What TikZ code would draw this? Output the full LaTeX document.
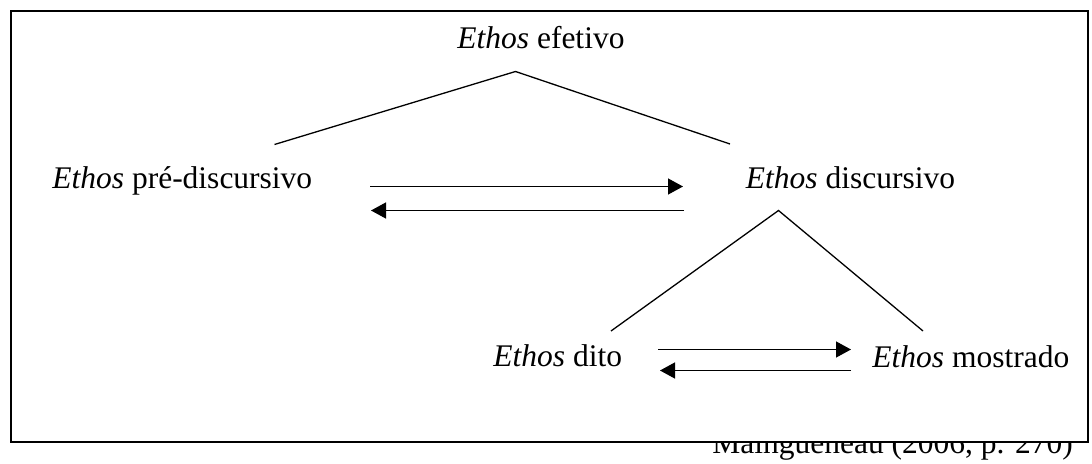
\documentclass[tikz,border=0pt]{standalone}
\usepackage{fontspec}
\setmainfont{Liberation Serif}
\usetikzlibrary{arrows.meta}
\begin{document}
\begin{tikzpicture}[x=0.5pt,y=-0.5pt,
  lbl/.style={anchor=base west,inner sep=0pt,font=\fontsize{15.75}{19}\selectfont},
  branch/.style={line width=0.65pt,line join=miter},
  flow/.style={line width=0.65pt,-{Triangle[length=7.5pt,width=8pt]}},
  frame/.style={draw=black,fill=white,line width=0.9pt}]
\useasboundingbox (0,0) rectangle (1092,464);
% caption (partly hidden under the frame)
\node[lbl] (cap) at (712,453) {Maingueneau (2006, p. 270)};
\path[frame] (11,11) rectangle (1088,442);
% labels
\node[lbl] (efet) at (457,49) {\textit{Ethos} efetivo};
\node[lbl] (pre) at (52,189) {\textit{Ethos} pré-discursivo};
\node[lbl] (disc) at (745.5,189) {\textit{Ethos} discursivo};
\node[lbl] (dito) at (493,367) {\textit{Ethos} dito};
\node[lbl] (most) at (872,367.5) {\textit{Ethos} mostrado};
% branch points
\coordinate (t1) at (515.5,71.5);
\coordinate (t1l) at (274.5,144.5);
\coordinate (t1r) at (730,144);
\coordinate (t2) at (778.5,210.5);
\coordinate (t2l) at (611,331);
\coordinate (t2r) at (923,331);
\draw[branch] (t1l) -- (t1) -- (t1r);
\draw[branch] (t2l) -- (t2) -- (t2r);
% arrows
\coordinate (a1s) at (370,186.5);
\coordinate (a1e) at (683,186.5);
\coordinate (a2s) at (684,210.5);
\coordinate (a2e) at (371,210.5);
\draw[flow] (a1s) -- (a1e);
\draw[flow] (a2s) -- (a2e);
\coordinate (b1s) at (658,349.5);
\coordinate (b1e) at (851,349.5);
\coordinate (b2s) at (851,370.5);
\coordinate (b2e) at (660,370.5);
\draw[flow] (b1s) -- (b1e);
\draw[flow] (b2s) -- (b2e);
\end{tikzpicture}
\end{document}
